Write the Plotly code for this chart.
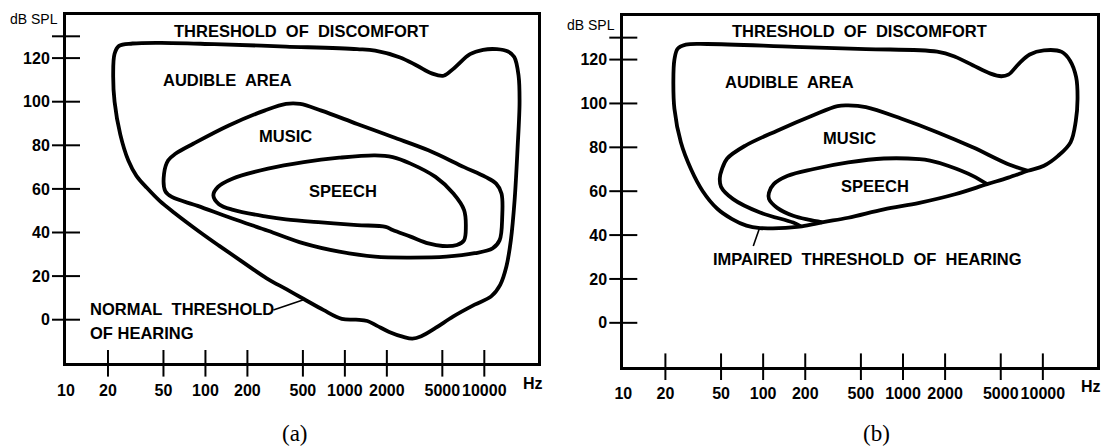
import plotly.graph_objects as go
import math

# ---------------- data ----------------
X_TICK_HZ = [10, 20, 50, 100, 200, 500, 1000, 2000, 5000, 10000]
X_TICK_TEXT = ["10", "20", "50", "100", "200", "500", "1000", "2000", "5000", "10000"]
Y_TICK_DB = [0, 20, 40, 60, 80, 100, 120]
Y_TICK_TEXT = ["0", "20", "40", "60", "80", "100", "120"]
Y_MARK_DB = [0, 20, 40, 60, 80, 100, 120, 130]
X_MIN_HZ, X_MAX_HZ = 10, 24270
Y_MIN, Y_MAX = -20, 140

# Panel (a)
A_AUD_HZ = [30, 48, 116, 378, 1225, 1650, 2490, 3300, 4200, 5100, 6100, 7900, 9800, 12300, 14800,
            16400, 17600, 17900, 17300, 16500, 15500, 14400, 13000, 11200, 8530, 6000, 4470, 3530,
            3050, 2630, 2080, 1690, 1450, 1200, 950, 700, 507, 380, 275, 180, 125, 90, 60, 47, 38,
            32, 28, 24.5, 22.3, 21.8, 22.3, 24, 30]
A_AUD_DB = [126.7, 127.0, 126.4, 125.3, 124.1, 123.4, 120.3, 116.5, 113.0, 111.9, 115.5, 121.8, 123.8,
            124.1, 123.0, 120.5, 112, 100, 78, 55, 36.5, 24.4, 16.0, 10.7, 6.9, 1.5, -3.8, -7.6,
            -8.7, -7.9, -5.6, -2.7, -0.6, 0, 0.4, 4.5, 9.5, 14, 19, 27, 34, 40.5, 49, 54.5, 60.5,
            66, 73, 85, 100, 112, 122, 125.6, 126.7]
A_MUS_HZ = [378, 478, 679, 1225, 2203, 3972, 7161, 10190, 12160, 13280, 13440, 12880, 11460, 8530,
            5333, 2958, 1644, 912, 507, 281, 156, 88, 57.4, 51.5, 50.5, 54.1, 60.9, 81.7, 147, 265, 378]
A_MUS_DB = [99.0, 99.0, 95.9, 89.8, 83.8, 77.7, 70.0, 65.5, 62.4, 57.9, 47.2, 36.5, 32.7, 30.5,
            28.9, 28.5, 28.9, 31.2, 35.0, 40.8, 46.4, 52.2, 56.3, 59.0, 67.0, 73.1, 76.1, 80.7, 89.1, 95.9, 99.0]
A_SPE_HZ = [912, 1644, 2203, 2958, 4467, 6000, 7161, 7370, 7161, 6360, 5023, 3972, 2958, 2203, 1960,
            1225, 679, 378, 275, 158, 125, 114, 123, 156, 281, 507, 912]
A_SPE_DB = [74.3, 75.4, 74.6, 71.6, 65.5, 57.9, 50.3, 42.6, 36.5, 34.3, 33.8, 35.0, 38.1, 41.1, 42.6,
            43.4, 44.6, 46.0, 47.3, 50.4, 53.0, 57.0, 60.9, 64.7, 69.3, 72.3, 74.3]

# Panel (b)
B_AUD_HZ = [40, 168, 543, 1754, 2355, 3155, 4227, 5040, 5665, 6755, 8055, 10180, 13650, 15660, 17300,
            17700, 17200, 15780, 12850, 10180, 7820, 5665, 3990, 2355, 1310, 730, 406, 269, 189, 130,
            95, 76, 60, 47, 37, 30.5, 25.8, 23.2, 22.8, 23.2, 24.5, 28, 40]
B_AUD_DB = [127.1, 125.8, 124.8, 123.6, 121.3, 117.4, 113.6, 112.4, 113.1, 118.2, 122.3, 124.2, 123.5,
            119.5, 112, 102, 92, 82.3, 76.1, 71.6, 69.3, 66.2, 63.2, 58.6, 54.7, 51.7, 47.9, 45.9,
            44.0, 43.2, 43.2, 44.3, 47.3, 52, 60, 70, 82.3, 97.6, 110, 120, 125, 126.8, 127.1]
B_MUS_HZ = [186, 164, 95, 61, 50, 49, 50.7, 55.3, 74.2, 126, 226, 340, 406, 543, 977, 1754, 3155,
            5665, 7820]
B_MUS_DB = [44.0, 45.7, 50.3, 56.4, 62, 66, 70.0, 74.9, 80.7, 87.6, 94.5, 98.8, 99.1, 98.3, 93.0,
            86.9, 80.0, 72.3, 69.3]
B_SPE_HZ = [265, 210, 164, 126, 110, 110, 119, 150, 226, 406, 730, 1310, 1561, 2094, 3155, 3990]
B_SPE_DB = [45.8, 47.0, 48.8, 52.4, 56.5, 59.3, 63.2, 67.0, 70.0, 73.1, 74.9, 74.6, 73.9, 71.6, 67.0, 63.2]

# leader lines
A_LEAD_HZ = [307, 518]
A_LEAD_DB = [4.4, 9.4]
B_LEAD_HZ = [94, 85]
B_LEAD_DB = [43.0, 35.0]

NB = "\u00a0"
A_LABELS = [("THRESHOLD" + NB + " OF" + NB + " DISCOMFORT", 485, 132.2),
            ("AUDIBLE" + NB + " AREA", 144, 109.8),
            ("MUSIC", 378, 84.4),
            ("SPEECH", 968, 58.9)]
A_LEFT_LABELS = [("NORMAL" + NB + " THRESHOLD", 14.3, 4.7),
                 ("OF HEARING", 14.3, -6.0)]
B_LABELS = [("THRESHOLD" + NB + " OF" + NB + " DISCOMFORT", 490, 133.2),
            ("AUDIBLE" + NB + " AREA", 155, 109.9),
            ("MUSIC", 413, 84.4),
            ("SPEECH", 630, 62.5),
            ("IMPAIRED" + NB + " THRESHOLD" + NB + " OF" + NB + " HEARING", 557, 29.2)]

# ---------------- figure ----------------
W, H = 1104, 448
SANS = "Liberation Sans, Arial, Helvetica, sans-serif"
SERIF = "Liberation Serif, Times New Roman, serif"
CURVE_W = 3.8

fig = go.Figure()

panels = [
    dict(xa="x", ya="y", xdom=[66 / W, 538 / W], ydom=[(H - 363.3) / H, (H - 14.5) / H],
         curves=[(A_AUD_HZ, A_AUD_DB), (A_MUS_HZ, A_MUS_DB), (A_SPE_HZ, A_SPE_DB)],
         lead=(A_LEAD_HZ, A_LEAD_DB)),
    dict(xa="x2", ya="y2", xdom=[623.3 / W, 1096.7 / W], ydom=[(H - 366.7) / H, (H - 15.7) / H],
         curves=[(B_AUD_HZ, B_AUD_DB), (B_MUS_HZ, B_MUS_DB), (B_SPE_HZ, B_SPE_DB)],
         lead=(B_LEAD_HZ, B_LEAD_DB)),
]

for p in panels:
    for hz, db in p["curves"]:
        fig.add_trace(go.Scatter(x=hz, y=db, mode="lines", xaxis=p["xa"], yaxis=p["ya"],
                                 line=dict(color="black", width=CURVE_W, shape="spline", smoothing=1.0),
                                 hoverinfo="skip", showlegend=False))
    fig.add_trace(go.Scatter(x=p["lead"][0], y=p["lead"][1], mode="lines", xaxis=p["xa"], yaxis=p["ya"],
                             line=dict(color="black", width=1.6), hoverinfo="skip", showlegend=False))
    # tick marks crossing the axis lines
    fig.add_trace(go.Scatter(x=X_TICK_HZ[1:], y=[Y_MIN] * (len(X_TICK_HZ) - 1), mode="markers",
                             xaxis=p["xa"], yaxis=p["ya"], cliponaxis=False,
                             marker=dict(symbol="line-ns", size=19, color="black",
                                         line=dict(color="black", width=2)),
                             hoverinfo="skip", showlegend=False))
    fig.add_trace(go.Scatter(x=[X_MIN_HZ] * len(Y_MARK_DB), y=Y_MARK_DB, mode="markers",
                             xaxis=p["xa"], yaxis=p["ya"], cliponaxis=False,
                             marker=dict(symbol="line-ew", size=20, color="black",
                                         line=dict(color="black", width=2)),
                             hoverinfo="skip", showlegend=False))

axis_common = dict(showgrid=False, zeroline=False, showline=True, mirror=True, linecolor="black",
                   linewidth=3, ticks="outside", ticklen=10, tickcolor="rgba(0,0,0,0)",
                   automargin=False, tickangle=0,
                   tickfont=dict(family=SANS, size=16, color="black", weight="bold"))

layout = dict(width=W, height=H, margin=dict(l=0, r=0, t=0, b=0, autoexpand=False),
              paper_bgcolor="white", plot_bgcolor="white", showlegend=False)

for i, p in enumerate(panels):
    sx = "" if i == 0 else "2"
    layout["xaxis" + sx] = dict(axis_common, type="log", domain=p["xdom"],
                                range=[math.log10(X_MIN_HZ), math.log10(X_MAX_HZ)],
                                anchor=p["ya"], tickmode="array", tickvals=X_TICK_HZ,
                                ticktext=X_TICK_TEXT)
    layout["yaxis" + sx] = dict(axis_common, domain=p["ydom"], range=[Y_MIN, Y_MAX],
                                anchor=p["xa"], tickmode="array", tickvals=Y_TICK_DB,
                                ticktext=Y_TICK_TEXT)

fig.update_layout(**layout)

ann = []
bold = dict(family=SANS, size=16.5, color="black", weight="bold")
for txt, hz, db in A_LABELS:
    ann.append(dict(text=txt, x=math.log10(hz), y=db, xref="x", yref="y", showarrow=False, font=bold))
for txt, hz, db in A_LEFT_LABELS:
    ann.append(dict(text=txt, x=math.log10(hz), y=db, xref="x", yref="y", showarrow=False,
                    xanchor="left", font=bold))
for txt, hz, db in B_LABELS:
    ann.append(dict(text=txt, x=math.log10(hz), y=db, xref="x2", yref="y2", showarrow=False, font=bold))


def paper_text(txt, px, py, font):
    return dict(text=txt, x=px / W, y=(H - py) / H, xref="paper", yref="paper", showarrow=False,
                xanchor="center", yanchor="middle", font=font)


small = dict(family=SANS, size=14, color="black")
tick_bold = dict(family=SANS, size=16, color="black", weight="bold")
ann.append(paper_text("dB SPL", 34.3, 19.2, small))
ann.append(paper_text("dB SPL", 590.8, 24.7, small))
ann.append(paper_text("Hz", 533, 383.3, tick_bold))
ann.append(paper_text("Hz", 1091, 386.7, tick_bold))
cap = dict(family=SERIF, size=23, color="black")
ann.append(paper_text("(a)", 295, 433, cap))
ann.append(paper_text("(b)", 876, 433, cap))

fig.update_layout(annotations=ann)
fig.write_html("out.html")
